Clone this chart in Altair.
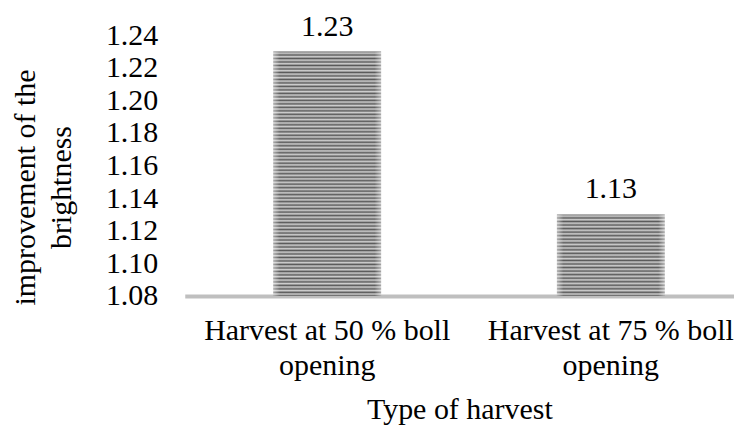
import altair as alt
import pandas as pd

categories = ["Harvest at 50 % boll opening", "Harvest at 75 % boll opening"]
values = [1.23, 1.13]
value_labels = ["1.23", "1.13"]
y_ticks = [1.08, 1.10, 1.12, 1.14, 1.16, 1.18, 1.20, 1.22, 1.24]
y_min, y_max = 1.08, 1.24

df = pd.DataFrame({"cat": categories, "val": values, "lab": value_labels})

FONT = "Liberation Serif"
FS = 30
PLOT_W, PLOT_H = 550, 261
STRIPE_PX = 3.5


def stripe_fill(n):
    stops = []
    for i in range(n):
        o = i / n
        stops.append({"offset": o, "color": "#5a5a5a"})
        stops.append({"offset": o + 0.45 / n, "color": "#cdcdcd"})
        stops.append({"offset": o + 0.7 / n, "color": "#a0a0a0"})
    stops.append({"offset": 1, "color": "#5a5a5a"})
    return {"gradient": "linear", "x1": 0, "x2": 0, "y1": 0, "y2": 1, "stops": stops}


edge_fill = {
    "gradient": "linear", "x1": 0, "x2": 1, "y1": 0, "y2": 0,
    "stops": [
        {"offset": 0, "color": "rgba(255,255,255,0.45)"},
        {"offset": 0.06, "color": "rgba(255,255,255,0)"},
        {"offset": 0.94, "color": "rgba(255,255,255,0)"},
        {"offset": 1, "color": "rgba(255,255,255,0.45)"},
    ],
}

x_axis = alt.Axis(
    title="Type of harvest",
    labelAngle=0,
    labelExpr="[substring(datum.label, 0, lastindexof(datum.label, ' ')), substring(datum.label, lastindexof(datum.label, ' ') + 1)]",
    labelFont=FONT, labelFontSize=FS, labelColor="#000000", labelLineHeight=35,
    labelPadding=20, labelLimit=0, ticks=False, tickSize=0,
    domainColor="#bfbfbf", domainWidth=4,
    titleFont=FONT, titleFontSize=FS, titleFontWeight="normal", titleColor="#000000",
    titlePadding=14,
)
y_axis = alt.Axis(
    title=["improvement of the", "brightness"],
    values=y_ticks, format=".2f", labelOverlap=False,
    labelFont=FONT, labelFontSize=FS, labelColor="#000000",
    labelPadding=27, ticks=False, tickSize=0, domain=False, grid=False,
    titleFont=FONT, titleFontSize=FS, titleFontWeight="normal", titleColor="#000000",
    titlePadding=29, titleLineHeight=36, titleY=152,
)
x_scale = alt.Scale(paddingInner=0.62, paddingOuter=0.2783, align=0.561)
y_scale = alt.Scale(domain=[y_min, y_max], zero=False, nice=False)


def X():
    return alt.X("cat:N", sort=categories, scale=x_scale, axis=x_axis)


def Y():
    return alt.Y("val:Q", scale=y_scale, axis=y_axis)


layers = []
for c, v in zip(categories, values):
    n = max(1, round((v - y_min) / (y_max - y_min) * PLOT_H / STRIPE_PX))
    layers.append(
        alt.Chart(df).transform_filter(alt.datum.cat == c)
        .mark_bar(fill=stripe_fill(n))
        .encode(x=X(), y=Y(), y2=alt.datum(y_min))
    )

edges = alt.Chart(df).mark_bar(fill=edge_fill).encode(x=X(), y=Y(), y2=alt.datum(y_min))
texts = alt.Chart(df).mark_text(font=FONT, fontSize=FS, baseline="alphabetic", dy=-16, color="#000000").encode(
    x=X(), y=Y(), text="lab:N"
)

chart = (
    alt.layer(*layers, edges, texts)
    .properties(width=PLOT_W, height=PLOT_H, background="white",
                padding={"left": 2, "top": 3, "right": 0, "bottom": 0})
    .configure_view(stroke=None)
)
chart.save("out.html", embed_options={"renderer": "svg", "actions": False})
